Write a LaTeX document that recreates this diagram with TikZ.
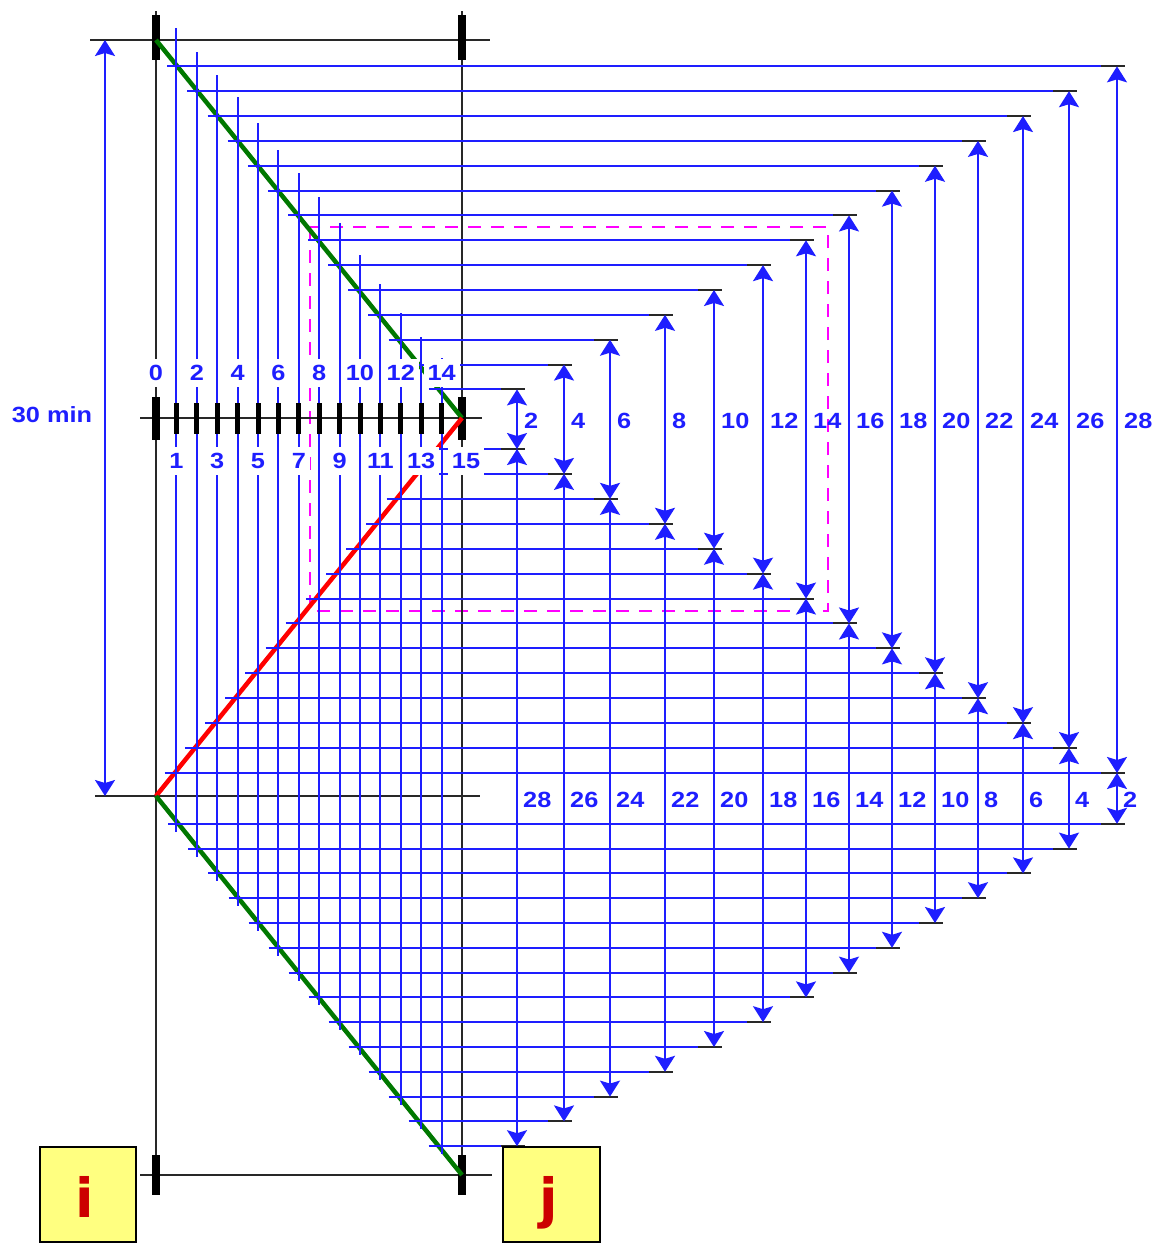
\documentclass[tikz,border=0pt]{standalone}
\usepackage{fontspec}
\newfontfamily\labfont[FakeStretch=1.15]{Liberation Sans}
\newfontfamily\boxfont{DejaVu Sans}
\usetikzlibrary{arrows.meta}
\definecolor{dimblue}{RGB}{30,30,255}
\definecolor{axgray}{RGB}{40,40,40}
\definecolor{trgreen}{RGB}{0,120,0}
\definecolor{trred}{RGB}{255,0,0}
\definecolor{boxyellow}{RGB}{255,255,128}
\definecolor{letred}{RGB}{204,0,0}
\definecolor{magdash}{RGB}{255,0,255}
\begin{document}
\begin{tikzpicture}[x=1pt,y=-1pt,
  axis/.style={axgray,line width=1.4pt},
  gridline/.style={dimblue,line width=2pt},
  endseg/.style={axgray,line width=2pt},
  dimarrow/.style={dimblue,line width=2pt,{Stealth[length=16pt,width=20pt,inset=3pt]}-{Stealth[length=16pt,width=20pt,inset=3pt]}},
  numlab/.style={font=\labfont\bfseries\fontsize{22}{22}\selectfont,text=dimblue,inner sep=0pt},
  rowlab/.style={numlab,fill=white,inner xsep=4pt,inner ysep=6pt},
  train/.style={line width=4.5pt},
  stationbox/.style={draw=black,line width=2pt,fill=boxyellow,minimum width=96pt,minimum height=95pt,inner sep=0pt},
  letter/.style={font=\boxfont\bfseries\fontsize{54}{54}\selectfont,text=letred,inner sep=0pt,anchor=base}
]
\useasboundingbox (0,0) rectangle (1157,1243);
% magenta dashed frame
\draw[magdash,line width=1.8pt,dash pattern=on 13pt off 10pt] (310,227) rectangle (828,611);
% thin black axes
\draw[axis] (156,11) -- (156,1195);
\draw[axis] (462,11) -- (462,1195);
\draw[axis] (90,40) -- (490,40);
\draw[axis] (140,418) -- (482,418);
\draw[axis] (95,796) -- (480,796);
\draw[axis] (140,1175) -- (492,1175);
% thick bars
\foreach \xx in {156,462}{
  \fill[black] (\xx-4,15) rectangle (\xx+4,60);
  \fill[black] (\xx-4,397) rectangle (\xx+4,440);
  \fill[black] (\xx-4,1155) rectangle (\xx+4,1195);
}
% train paths
\draw[train,trgreen] (156,40) -- (462,418);
\draw[train,trred] (156,796) -- (462,418);
\draw[train,trgreen] (156,796) -- (462,1175);
% blue grid
\foreach \k/\t/\X in {1/28/1117,2/52/1069,3/75/1023,4/97/978,5/123/935,6/150/892,7/173/849,8/197/806,9/223/763,10/255/714,11/284/665,12/313/610,13/337/564,14/358/517}{
  \pgfmathsetmacro\xk{156+20.4*\k}
  \pgfmathsetmacro\yt{41.5+24.85*\k}
  \pgfmathsetmacro\ym{797.9-24.92*\k}
  \pgfmathsetmacro\yb{799+24.8*\k}
  \pgfmathsetmacro\st{156+(\yt-40)/378*306-10}
  \pgfmathsetmacro\sm{156+(796-\ym)/378*306-10}
  \pgfmathsetmacro\sb{156+(\yb-796)/379*306-10}
  \draw[gridline] (\xk,\t) -- (\xk,\yb+8);
  \draw[gridline] (\st,\yt) -- (\X+8,\yt);
  \draw[gridline] (\sm,\ym) -- (\X+8,\ym);
  \draw[gridline] (\sb,\yb) -- (\X+8,\yb);
  \draw[endseg] (\X-16,\yt) -- (\X+8,\yt);
  \draw[endseg] (\X-16,\ym) -- (\X+8,\ym);
  \draw[endseg] (\X-16,\yb) -- (\X+8,\yb);
  \fill[black] (\xk-2.5,403) rectangle (\xk+2.5,434);
}
% dimension arrows and labels
\foreach \k/\X in {1/1117,2/1069,3/1023,4/978,5/935,6/892,7/849,8/806,9/763,10/714,11/665,12/610,13/564,14/517}{
  \pgfmathsetmacro\yt{41.5+24.85*\k}
  \pgfmathsetmacro\ym{797.9-24.92*\k}
  \pgfmathsetmacro\yb{799+24.8*\k}
  \pgfmathtruncatemacro\lt{30-2*\k}
  \pgfmathtruncatemacro\lb{2*\k}
  \coordinate (t\k) at (\X,\yt);
  \coordinate (m\k) at (\X,\ym);
  \coordinate (b\k) at (\X,\yb);
  \draw[dimarrow] (t\k) -- (m\k);
  \draw[dimarrow] (m\k) -- (b\k);
  \node[numlab,anchor=west] (ut\k) at (\X+7,421) {\lt};
  \node[numlab,anchor=west] (lb\k) at (\X+6,800) {\lb};
}
% 30 min
\coordinate (tz) at (105,40);
\coordinate (tt) at (105,796);
\draw[dimarrow] (tz) -- (tt);
\node[numlab] (thirty) at (52,415) {30 min};
% row labels
\foreach \k in {0,2,...,14}{
  \node[rowlab] (r\k) at (156+20.4*\k,373) {\k};
}
\foreach \k in {1,3,...,13}{
  \node[rowlab] (r\k) at (156+20.4*\k,461) {\k};
}
\node[rowlab] (r15) at (466,461) {15};
% station boxes
\node[stationbox] (boxi) at (88,1194.5) {};
\node[stationbox,minimum width=97pt] (boxj) at (551.5,1194.5) {};
\node[letter] (li) at (85,1217) {i};
\node[letter] (lj) at (549,1217) {j};
\end{tikzpicture}
\end{document}
